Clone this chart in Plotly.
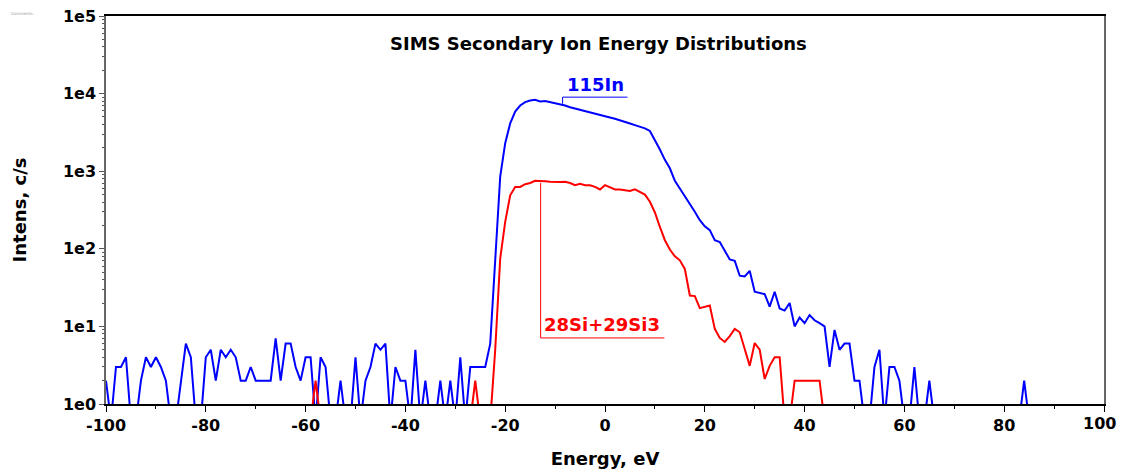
import plotly.graph_objects as go

# ---------------- data ----------------
energy = list(range(-100, 101))  # eV, 1 eV step

in115 = [
    # -100 .. -61
    2, 0, 3, 3, 4, 0, 0, 2, 4, 3, 4, 3, 2, 0, 0, 2, 6, 4, 0, 0,
    4, 5, 2, 5, 4, 5, 4, 2, 2, 3, 2, 2, 2, 2, 7, 2, 6, 6, 3, 2,
    # -60 .. -23
    4, 4, 0, 4, 3, 0, 0, 2, 0, 0, 4, 0, 2, 3, 6, 5, 6, 0, 3, 2,
    2, 0, 5, 0, 2, 0, 0, 2, 0, 2, 0, 4, 0, 3, 3, 3, 3, 6,
    # -22 .. 0
    70, 850, 2300, 4130, 5870, 7020, 7760, 8140, 8300, 7900, 8000, 7760,
    7450, 7230, 7020, 6670, 6430, 6230, 6040, 5810, 5580, 5370, 5120,
    # 1 .. 20
    4920, 4730, 4540, 4320, 4120, 3920, 3740, 3560, 3300, 2550,
    1900, 1400, 1090, 750, 600, 468, 373, 300, 234, 195,
    # 21 .. 40
    174, 129, 122, 93, 73, 70, 45, 44, 52, 28, 27, 26, 18, 28, 17, 16, 20, 10, 13, 11,
    # 41 .. 60
    14, 12, 11, 10, 3, 9, 5, 6, 6, 2, 2, 0, 0, 3, 5, 0, 3, 3, 2, 0,
    # 61 .. 80
    0, 3, 0, 0, 2, 0, 0, 0, 0, 0, 0, 0, 0, 0, 0, 0, 0, 0, 0, 0,
    # 81 .. 100
    0, 0, 0, 2, 0, 0, 0, 0, 0, 0, 0, 0, 0, 0, 0, 0, 0, 0, 0, 0,
]

si28_29si3 = [
    # -100 .. -61
    0, 0, 0, 0, 0, 0, 0, 0, 0, 0, 0, 0, 0, 0, 0, 0, 0, 0, 0, 0,
    0, 0, 0, 0, 0, 0, 0, 0, 0, 0, 0, 0, 0, 0, 0, 0, 0, 0, 0, 0,
    # -60 .. -23
    0, 0, 2, 0, 0, 0, 0, 0, 0, 0, 0, 0, 0, 0, 0, 0, 0, 0, 0, 0,
    0, 0, 0, 0, 0, 0, 0, 0, 0, 0, 0, 0, 0, 0, 2, 0, 0, 0,
    # -22 .. 0
    5, 75, 222, 490, 628, 628, 680, 705, 754, 754, 740, 731,
    720, 725, 731, 705, 660, 690, 660, 660, 628, 582, 660,
    # 1 .. 20
    620, 582, 582, 572, 555, 585, 545, 500, 404, 294,
    192, 129, 98, 80, 71, 55, 25, 24.6, 17.2, 17.7,
    # 21 .. 40
    18.6, 9.3, 7.1, 6.3, 7.5, 9.3, 8.4, 5.1, 3.1, 6.1, 5, 2.1, 3.1, 4, 4, 0, 0, 2, 2, 2,
    # 41 .. 60
    2, 2, 2, 0, 0, 0, 0, 0, 0, 0, 0, 0, 0, 0, 0, 0, 0, 0, 0, 0,
    # 61 .. 80
    0, 0, 0, 0, 0, 0, 0, 0, 0, 0, 0, 0, 0, 0, 0, 0, 0, 0, 0, 0,
    # 81 .. 100
    0, 0, 0, 0, 0, 0, 0, 0, 0, 0, 0, 0, 0, 0, 0, 0, 0, 0, 0, 0,
]

series_names = ["115In", "28Si+29Si3"]
series_colors = ["#0000FF", "#FF0000"]

x_tickvals = [-100, -80, -60, -40, -20, 0, 20, 40, 60, 80, 100]
x_ticktext = ["-100", "-80", "-60", "-40", "-20", "0", "20", "40", "60", "80", "100"]
y_tickvals = [1, 10, 100, 1000, 10000, 100000]
y_ticktext = ["1e0", "1e1", "1e2", "1e3", "1e4", "1e5"]

# zero counts cannot be shown on a log axis: draw them just below the axis floor
ZERO_FLOOR = 0.6


def shown(vals):
    return [v if v > 0 else ZERO_FLOOR for v in vals]


FONT = "DejaVu Sans"

fig = go.Figure()
for name, vals, col in zip(series_names, [in115, si28_29si3], series_colors):
    fig.add_trace(go.Scatter(x=energy, y=shown(vals), mode="lines", name=name,
                             line=dict(color=col, width=2), showlegend=False))

# label leader lines (L-shaped)
leaders = [
    # (x vertical, y start, y corner, x end, colour)
    (-8.5, 7400, 9000, 4.5, "#0000FF"),
    (-12.9, 710, 7.1, 11.9, "#FF0000"),
]
for xv, y0, y1, xe, col in leaders:
    fig.add_trace(go.Scatter(x=[xv, xv, xe], y=[y0, y1, y1], mode="lines",
                             line=dict(color=col, width=1), hoverinfo="skip",
                             showlegend=False))

minor_y = [m * 10 ** k for k in range(0, 5) for m in range(2, 10)]

# the last x label sits at the window edge: draw it as a slightly nudged annotation
axis_ticktext = x_ticktext[:-1] + [""]

fig.update_layout(
    width=1125, height=475,
    margin=dict(l=98, r=29, t=8, b=79, autoexpand=False),
    paper_bgcolor="white", plot_bgcolor="white",
    font=dict(family=FONT, color="black"),
    xaxis=dict(
        range=[-100, 100], tickvals=x_tickvals, ticktext=axis_ticktext,
        ticks="outside", ticklen=6,
        tickwidth=1, tickcolor="black", showgrid=False, zeroline=False,
        showline=True, linecolor="black", linewidth=1.5, mirror=True,
        tickfont=dict(family=FONT, size=16, weight="bold"),
        ticklabeloverflow="allow", automargin=False,
        minor=dict(dtick=10, ticks="outside", ticklen=3, tickcolor="black"),
        title=dict(text="Energy, eV", font=dict(family=FONT, size=18, weight="bold"),
                   standoff=18),
    ),
    yaxis=dict(
        type="log", range=[0, 5], tickvals=y_tickvals, ticktext=y_ticktext,
        ticks="outside", ticklen=5, tickwidth=1, tickcolor="#555",
        showgrid=False, zeroline=False, showline=True, linecolor="#666",
        linewidth=1.5, mirror=True,
        tickfont=dict(family=FONT, size=16, weight="bold"),
        ticklabeloverflow="allow", automargin=False,
        minor=dict(tickvals=minor_y, ticks="outside", ticklen=2, tickcolor="#555"),
        title=dict(text="Intens, c/s", font=dict(family=FONT, size=18, weight="bold"),
                   standoff=32),
    ),
)

fig.add_annotation(x=x_tickvals[-1], xref="x", y=0, yref="paper", xanchor="center",
                   yanchor="top", yshift=-8, xshift=-5, showarrow=False,
                   text="<b>" + x_ticktext[-1] + "</b>",
                   font=dict(family=FONT, size=16, color="black"))
fig.add_annotation(xref="paper", yref="paper", x=0.493, y=0.930, xanchor="center",
                   yanchor="middle", showarrow=False,
                   text="<b>SIMS Secondary Ion Energy Distributions</b>",
                   font=dict(family=FONT, size=18, color="black"))
fig.add_annotation(x=-2.0, y=4.12, xref="x", yref="y", showarrow=False,
                   text="<b>115In</b>", font=dict(family=FONT, size=18, color="#0000FF"))
fig.add_annotation(x=-0.6, y=1.02, xref="x", yref="y", showarrow=False,
                   text="<b>28Si+29Si3</b>", font=dict(family=FONT, size=18, color="#FF0000"))
fig.add_annotation(xref="paper", yref="paper", x=-0.097, y=1.018, xanchor="left",
                   yanchor="top", showarrow=False, text="Comments:",
                   font=dict(family=FONT, size=4, color="#999"))

fig.write_html("out.html")
